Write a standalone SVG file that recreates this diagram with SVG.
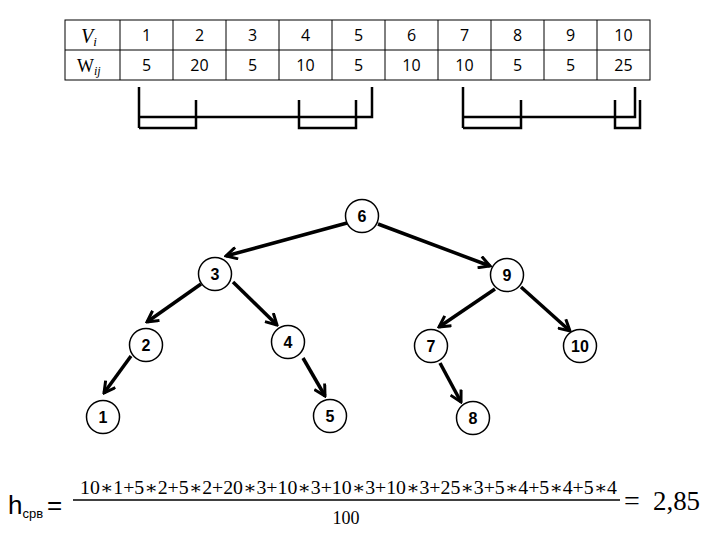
<svg xmlns="http://www.w3.org/2000/svg" width="720" height="540" viewBox="0 0 720 540">
<defs>
<style>
.tbl{fill:none;stroke:#000;stroke-width:1}
.cell{font-family:"Open Sans","Liberation Sans",Arial,sans-serif;font-size:16px;text-anchor:middle;fill:#000}
.br{fill:none;stroke:#000;stroke-width:2.5}
.node circle{fill:#fff;stroke:#000;stroke-width:1.5}
.node text{font-family:"Liberation Sans",Arial,sans-serif;font-size:16px;font-weight:bold;text-anchor:middle;fill:#000}
.edge{stroke:#000;stroke-width:3.5;fill:none;marker-end:url(#arr)}
.math{font-family:"Liberation Serif","DejaVu Serif",serif;fill:#000}
</style>
<marker id="arr" markerUnits="userSpaceOnUse" viewBox="0 0 14 14" markerWidth="14" markerHeight="14" refX="12" refY="7" orient="auto">
<path d="M1,1 L12,7 L1,13" fill="none" stroke="#000" stroke-width="3"/>
</marker>
</defs>
<rect width="720" height="540" fill="#fff"/>

<g id="table">
<rect class="tbl" x="65" y="20" width="585" height="60"/>
<line class="tbl" x1="65" y1="50" x2="650" y2="50"/>
<path class="tbl" d="M120,20V80M173,20V80M226,20V80M279,20V80M332,20V80M385,20V80M438,20V80M491,20V80M544,20V80M597,20V80"/>
<text class="math" x="81" y="43" font-size="20" font-style="italic">V<tspan font-size="13" dy="3">i</tspan></text>
<text class="math" x="77" y="72" font-size="18">W<tspan font-size="12" dy="3" font-style="italic">ij</tspan></text>
<g class="cell">
<text x="146.5" y="41">1</text><text x="199.5" y="41">2</text><text x="252.5" y="41">3</text><text x="305.5" y="41">4</text><text x="358.5" y="41">5</text><text x="411.5" y="41">6</text><text x="464.5" y="41">7</text><text x="517.5" y="41">8</text><text x="570.5" y="41">9</text><text x="623.5" y="41">10</text>
<text x="146.5" y="71">5</text><text x="199.5" y="71">20</text><text x="252.5" y="71">5</text><text x="305.5" y="71">10</text><text x="358.5" y="71">5</text><text x="411.5" y="71">10</text><text x="464.5" y="71">10</text><text x="517.5" y="71">5</text><text x="570.5" y="71">5</text><text x="623.5" y="71">25</text>
</g>
</g>

<g id="brackets">
<path class="br" d="M139,87V128M139,117H372V87M139,128H196V100M299,100V128H356V100"/>
<path class="br" d="M463,87V128M463,117H635V87M463,128H521V100M615,100V128H640V100"/>
</g>

<g id="connectors">
<line class="edge" x1="347" y1="223" x2="226" y2="256"/>
<line class="edge" x1="378" y1="224" x2="490" y2="266"/>
<line class="edge" x1="201" y1="284" x2="147" y2="322"/>
<line class="edge" x1="233" y1="282" x2="277" y2="325"/>
<line class="edge" x1="131" y1="356" x2="104" y2="393"/>
<line class="edge" x1="303" y1="358" x2="325" y2="396"/>
<line class="edge" x1="495" y1="289" x2="439" y2="327"/>
<line class="edge" x1="521" y1="287" x2="570" y2="331"/>
<line class="edge" x1="440" y1="363" x2="461" y2="402"/>
</g>

<g id="n6" class="node"><circle cx="362" cy="216" r="16.5"/><text x="362" y="222">6</text></g>
<g id="n3" class="node"><circle cx="215" cy="274" r="16.5"/><text x="215" y="280">3</text></g>
<g id="n9" class="node"><circle cx="507" cy="275" r="16.5"/><text x="507" y="281">9</text></g>
<g id="n2" class="node"><circle cx="146" cy="345" r="16.5"/><text x="146" y="351">2</text></g>
<g id="n4" class="node"><circle cx="288" cy="342" r="16.5"/><text x="288" y="348">4</text></g>
<g id="n7" class="node"><circle cx="431" cy="346" r="16.5"/><text x="431" y="352">7</text></g>
<g id="n10" class="node"><circle cx="580" cy="346" r="16.5"/><text x="580" y="352">10</text></g>
<g id="n1" class="node"><circle cx="103" cy="417" r="16.5"/><text x="103" y="423">1</text></g>
<g id="n5" class="node"><circle cx="330" cy="416" r="16.5"/><text x="330" y="422">5</text></g>
<g id="n8" class="node"><circle cx="473" cy="418" r="16.5"/><text x="473" y="424">8</text></g>

<g id="formula">
<text x="8" y="514" font-family="Liberation Sans,Arial,sans-serif" font-size="26" fill="#000">h<tspan font-size="13" dy="4">срв</tspan><tspan dy="-4" dx="4">=</tspan></text>
<text class="math" x="80" y="494" font-size="18" textLength="537" lengthAdjust="spacingAndGlyphs">10∗1+5∗2+5∗2+20∗3+10∗3+10∗3+10∗3+25∗3+5∗4+5∗4+5∗4</text>
<line x1="73" y1="500" x2="620" y2="500" stroke="#000" stroke-width="1.5"/>
<text class="math" x="346" y="524" font-size="18" text-anchor="middle">100</text>
<text class="math" x="624" y="510" font-size="28">=</text>
<text class="math" x="653" y="510" font-size="27" textLength="47" lengthAdjust="spacingAndGlyphs">2,85</text>
</g>
</svg>
